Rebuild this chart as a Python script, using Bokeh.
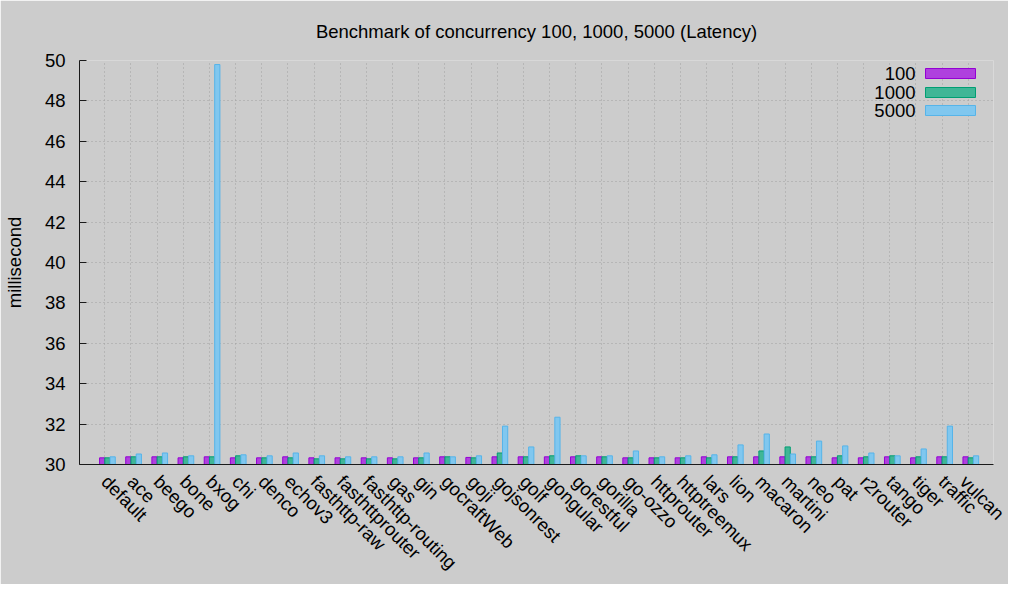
from bokeh.plotting import figure
from bokeh.models import FactorRange, Range1d, SingleIntervalTicker, Label, BoxAnnotation
from bokeh.transform import dodge
from bokeh.embed import file_html
from bokeh.resources import INLINE
import math

frameworks = ["default", "ace", "beego", "bone", "bxog", "chi", "denco", "echov3",
              "fasthttp-raw", "fasthttprouter", "fasthttp-routing", "gas", "gin",
              "gocraftWeb", "goji", "gojsonrest", "golf", "gongular", "gorestful",
              "gorilla", "go-ozzo", "httprouter", "httptreemux", "lars", "lion",
              "macaron", "martini", "neo", "pat", "r2router", "tango", "tiger",
              "traffic", "vulcan"]

c100 = [30.33, 30.38, 30.38, 30.33, 30.38, 30.33, 30.33, 30.38, 30.33, 30.33,
        30.33, 30.33, 30.33, 30.38, 30.35, 30.38, 30.38, 30.38, 30.38, 30.38,
        30.33, 30.33, 30.33, 30.38, 30.38, 30.38, 30.38, 30.38, 30.33, 30.33,
        30.38, 30.33, 30.38, 30.38]
c1000 = [30.33, 30.38, 30.38, 30.38, 30.38, 30.43, 30.33, 30.33, 30.28, 30.28,
         30.28, 30.28, 30.33, 30.38, 30.33, 30.57, 30.38, 30.43, 30.43, 30.38,
         30.33, 30.33, 30.33, 30.33, 30.38, 30.67, 30.87, 30.38, 30.43, 30.38,
         30.43, 30.38, 30.38, 30.33]
c5000 = [30.38, 30.52, 30.57, 30.43, 49.80, 30.48, 30.43, 30.57, 30.43, 30.38,
         30.38, 30.38, 30.57, 30.38, 30.43, 31.90, 30.87, 32.34, 30.43, 30.43,
         30.67, 30.38, 30.43, 30.48, 30.97, 31.51, 30.52, 31.16, 30.92, 30.57,
         30.43, 30.77, 31.90, 30.43]

series_names = ["100", "1000", "5000"]
line_colors = ["#9400d3", "#009e73", "#56b4e9"]
fill_colors = ["#af40de", "#40b696", "#80c7ef"]

FONT = "Liberation Sans"
BG = "#cccccc"

p = figure(width=1008, height=584, output_backend="svg", toolbar_location=None,
           x_range=FactorRange(factors=frameworks, range_padding=0.467,
                               range_padding_units="absolute"),
           y_range=Range1d(30, 50),
           title="Benchmark of concurrency 100, 1000, 5000 (Latency)",
           min_border_left=77, min_border_right=15, min_border_top=56,
           min_border_bottom=120)

p.background_fill_color = BG
p.border_fill_color = BG
p.outline_line_color = None

p.title.align = "center"
p.title.text_font = FONT
p.title.text_font_size = "18.5px"
p.title.text_font_style = "normal"
p.title.text_color = "#000000"
p.title.standoff = 37

data = dict(x=frameworks, a=c100, b=c1000, c=c5000)
offsets = [-0.1, 0.1, 0.3]
for key, off, lc, fc in zip(["a", "b", "c"], offsets, line_colors, fill_colors):
    p.vbar(x=dodge("x", off, range=p.x_range), top=key, bottom=30, width=0.2,
           source=data, fill_color=fc, line_color=lc, line_width=1)

# axes
p.yaxis.ticker = SingleIntervalTicker(interval=2)
p.yaxis.minor_tick_line_color = None
p.yaxis.major_tick_in = 7
p.yaxis.major_tick_out = 0
p.yaxis.major_label_standoff = 10
p.yaxis.axis_label = "millisecond"
p.yaxis.axis_label_text_font = FONT
p.yaxis.axis_label_text_font_size = "18.5px"
p.yaxis.axis_label_text_font_style = "normal"
p.yaxis.axis_label_standoff = 17
p.yaxis.major_label_text_font = FONT
p.yaxis.major_label_text_font_size = "18.5px"

p.xaxis.minor_tick_line_color = None
p.xaxis.major_label_orientation = -math.pi / 4
p.xaxis.major_label_text_font = FONT
p.xaxis.major_label_text_font_size = "18.5px"
p.xaxis.major_label_standoff = 8

for ax in (p.xaxis, p.yaxis):
    ax.axis_line_color = "#1a1a1a"
    ax.major_label_text_color = "#000000"
    ax.axis_label_text_color = "#000000"
p.yaxis.major_tick_line_color = "#1a1a1a"
p.xaxis.major_tick_line_color = None

p.xgrid.grid_line_color = "#a0a0a0"
p.xgrid.grid_line_dash = "1 3"
p.ygrid.grid_line_color = "#a0a0a0"
p.ygrid.grid_line_dash = "1 3"

# legend (gnuplot style: label left of swatch)
rows_y = [391, 372, 354]
for name, lc, fc, yy in zip(series_names, line_colors, fill_colors, rows_y):
    p.add_layout(Label(x=836, y=yy, x_units="screen", y_units="screen", text=name,
                       text_align="right", text_baseline="middle",
                       text_font=FONT, text_font_size="18.5px", text_color="#000000"))
    p.add_layout(BoxAnnotation(left=846, right=896, bottom=yy - 5, top=yy + 5,
                               left_units="screen", right_units="screen",
                               top_units="screen", bottom_units="screen",
                               fill_color=fc, fill_alpha=1.0, line_color=lc,
                               line_width=1, line_alpha=1.0))

html = file_html(p, INLINE)
html = html.replace("<body>", '<body style="background:#cccccc">', 1)
open("out.html", "w").write(html)
